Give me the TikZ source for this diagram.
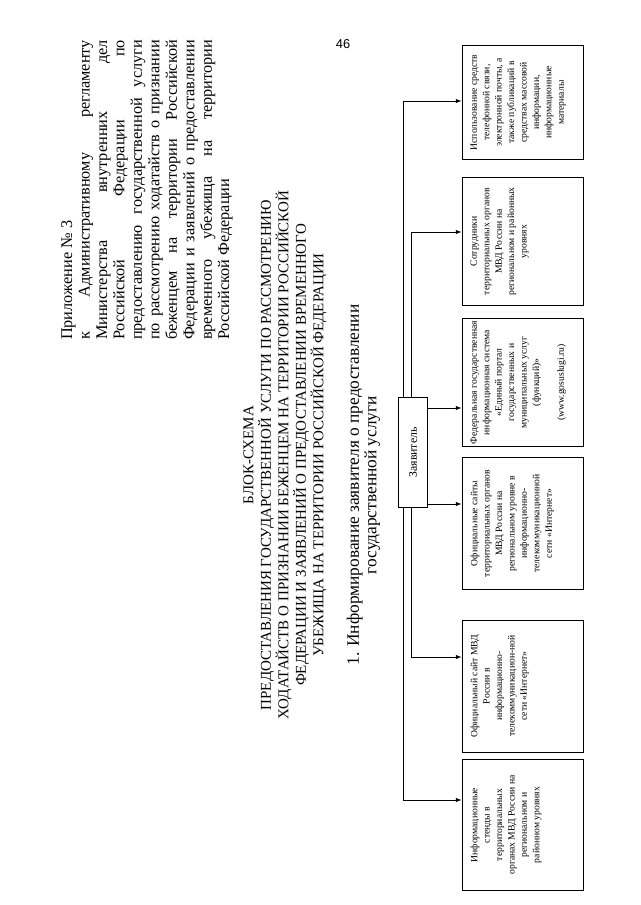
\documentclass[tikz,border=0pt]{standalone}
\usepackage{fontspec}
\setmainfont{Liberation Serif}
\newfontfamily\pagenofont{Liberation Sans}
\usepackage{graphicx}
\usepackage{tikz}

\newlength\apxw \setlength\apxw{9.84cm}
\newcommand\jline[1]{\makebox[\apxw][s]{#1}}
\newcommand\boxtext[3]{\rotatebox{90}{\parbox[c][#1][t]{#2}{\centering\fontsize{9}{11.6}\selectfont\vspace*{8pt}#3}}}

\begin{document}
\begin{tikzpicture}[
  x=0.0328125cm, y=-0.0328125cm, >=latex,
  vtext/.style={rotate=90, font=\fontsize{14}{16.3}\selectfont, align=center, inner sep=0pt},
  infobox/.style={draw, line width=0.9pt, inner sep=0pt},
  applicant/.style={draw, line width=0.9pt, inner sep=0pt, minimum width=0.98cm, minimum height=3.58cm, font=\fontsize{11}{13}\selectfont},
  link/.style={->, line width=0.8pt},
]
\useasboundingbox (0,0) rectangle (640,905);
\node[font=\pagenofont\fontsize{12}{14}\selectfont] (pageno) at (343,44) {46};
\node[vtext, text width=9.84cm, align=justify, font=\fontsize{15.2}{16.3}\selectfont] (apx) at (147,190) {Приложение №~3\\
  \jline{к Административному регламенту}\\
  \jline{Министерства внутренних дел}\\
  \jline{Российской Федерации по}\\
  \jline{предоставлению государственной услуги}\\
  \jline{по рассмотрению ходатайств о признании}\\
  \jline{беженцем на территории Российской}\\
  \jline{Федерации и заявлений о предоставлении}\\
  \jline{временного убежища на территории}\\
  Российской Федерации};
\node[vtext] (title) at (285,455) {БЛОК-СХЕМА\\
  ПРЕДОСТАВЛЕНИЯ ГОСУДАРСТВЕННОЙ УСЛУГИ ПО РАССМОТРЕНИЮ\\
  ХОДАТАЙСТВ О ПРИЗНАНИИ БЕЖЕНЦЕМ НА ТЕРРИТОРИИ РОССИЙСКОЙ\\
  ФЕДЕРАЦИИ И ЗАЯВЛЕНИЙ О ПРЕДОСТАВЛЕНИИ ВРЕМЕННОГО\\
  УБЕЖИЩА НА ТЕРРИТОРИИ РОССИЙСКОЙ ФЕДЕРАЦИИ};
\node[vtext, font=\fontsize{16.2}{16.5}\selectfont] (step1) at (363.5,485) {1. Информирование заявителя о предоставлении\\
  государственной услуги};

% applicant and the six information channels
\node[applicant] (z) at (413,452.5) {\rotatebox{90}{Заявитель}};
\node[infobox] (b1) at (522.5,102.5) {\boxtext{3.97cm}{3.77cm}{Использование средств\\ телефонной связи,\\ электронной почты, а\\ также публикаций в\\ средствах массовой\\ информации,\\ информационные\\ материалы}};
\node[infobox] (b2) at (522.5,241.5) {\boxtext{3.97cm}{4.17cm}{Сотрудники\\ территориальных органов\\ МВД России на\\ региональном и районных\\ уровнях}};
\node[infobox] (b3) at (522.5,382.5) {\boxtext{3.97cm}{4.23cm}{Федеральная государственная\\ информационная система\\ «Единый портал\\ государственных и\\ муниципальных услуг\\ (функций)»\\[11.6pt] (www.gosuslugi.ru)}};
\node[infobox] (b4) at (522.5,523.5) {\boxtext{3.97cm}{4.36cm}{Официальные сайты\\ территориальных органов\\ МВД России на\\ региональном уровне в\\ информационно-\\ телекоммуникационной\\ сети «Интернет»}};
\node[infobox] (b5) at (522.5,686) {\boxtext{3.97cm}{4.33cm}{Официальный сайт МВД\\ России в\\ информационно-\\ телекоммуникацион-ной\\ сети «Интернет»}};
\node[infobox] (b6) at (522.5,825) {\boxtext{3.97cm}{4.27cm}{Информационные\\ стенды в\\ территориальных\\ органах МВД России на\\ региональном и\\ районном уровнях}};

% branch points
\coordinate (o1) at (403,101);
\coordinate (o6) at (403,800);
\coordinate (i2) at (411,232);
\coordinate (i5) at (411,657);
\coordinate (m3) at (428,408);
\coordinate (m4) at (428,504);
\draw[link] (o1 |- z.north) -- (o1) -- (o1 -| b1.west);
\draw[link] (i2 |- z.north) -- (i2) -- (i2 -| b2.west);
\draw[link] (m3 -| z.east) -- (m3 -| b3.west);
\draw[link] (m4 -| z.east) -- (m4 -| b4.west);
\draw[link] (i5 |- z.south) -- (i5) -- (i5 -| b5.west);
\draw[link] (o6 |- z.south) -- (o6) -- (o6 -| b6.west);
\end{tikzpicture}
\end{document}
